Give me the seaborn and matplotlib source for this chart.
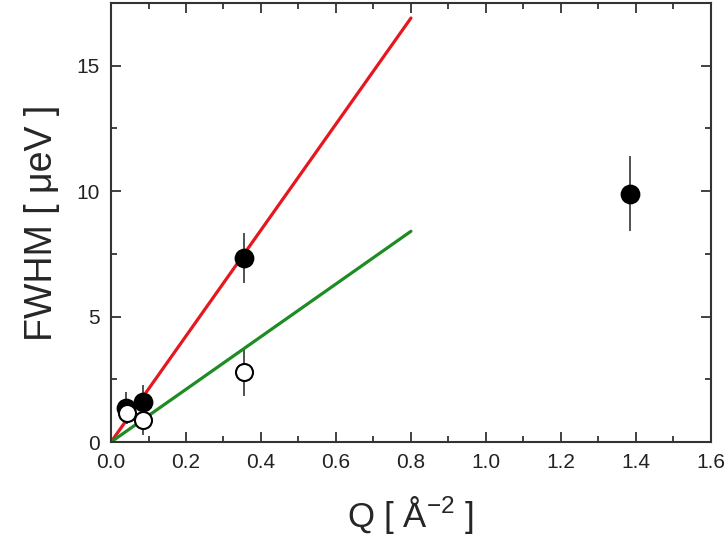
import matplotlib
matplotlib.use("Agg")
import matplotlib.pyplot as plt
import seaborn as sns
import pandas as pd
from matplotlib.ticker import MultipleLocator

# data
q_filled = [0.039, 0.086, 0.356, 1.384]
fwhm_filled = [1.35, 1.58, 7.35, 9.9]
err_filled = [0.65, 0.69, 1.0, 1.5]

q_open = [0.043, 0.086, 0.356]
fwhm_open = [1.17, 0.87, 2.80]
err_open = [0.45, 0.6, 0.95]

q_fit = [0.0, 0.8]
fit_red = [0.0, 16.9]
fit_green = [0.0, 8.4]

sns.set_style("ticks")
plt.rcParams["font.family"] = ["Liberation Sans", "DejaVu Sans"]
plt.rcParams["mathtext.fontset"] = "custom"
plt.rcParams["mathtext.rm"] = "Liberation Sans"
plt.rcParams["mathtext.it"] = "Liberation Sans:italic"
plt.rcParams["mathtext.default"] = "regular"

fig = plt.figure(figsize=(7.28, 5.42), dpi=100)
ax = fig.add_axes([0.1525, 0.1845, 0.824, 0.81])

fits = pd.DataFrame({"q": q_fit * 2,
                     "fwhm": fit_red + fit_green,
                     "fit": ["red"] * 2 + ["green"] * 2})
sns.lineplot(data=fits, x="q", y="fwhm", hue="fit",
             palette={"red": "#e5171f", "green": "#1e8c23"},
             linewidth=2.3, legend=False, ax=ax, zorder=2)

ax.errorbar(q_filled, fwhm_filled, yerr=err_filled, fmt="none",
            ecolor="#333333", elinewidth=1.2, zorder=1)
ax.errorbar(q_open, fwhm_open, yerr=err_open, fmt="none",
            ecolor="#333333", elinewidth=1.2, zorder=1)

sns.scatterplot(x=q_filled, y=fwhm_filled, color="black", s=170,
                edgecolor="black", linewidth=1.2, ax=ax, zorder=3)
sns.scatterplot(x=q_open, y=fwhm_open, color="white", s=150,
                edgecolor="black", linewidth=1.5, ax=ax, zorder=4)

ax.set_xlim(0, 1.6)
ax.set_ylim(0, 17.5)
ax.xaxis.set_major_locator(MultipleLocator(0.2))
ax.xaxis.set_minor_locator(MultipleLocator(0.1))
ax.yaxis.set_major_locator(MultipleLocator(5))
ax.yaxis.set_minor_locator(MultipleLocator(2.5))
ax.tick_params(which="both", direction="in", top=True, right=True,
               colors="#333333", labelcolor="#222222", labelsize=15, width=1.3)
ax.tick_params(which="major", length=7, pad=8)
ax.tick_params(which="minor", length=4)
for s in ax.spines.values():
    s.set_linewidth(1.5)
    s.set_color("#333333")

ax.set_xlabel("Q [ Å$^{-2}$ ]", fontsize=25, labelpad=16)
ax.set_ylabel("FWHM [ μeV ]", fontsize=27, labelpad=12)

fig.savefig("out.png", dpi=100)
